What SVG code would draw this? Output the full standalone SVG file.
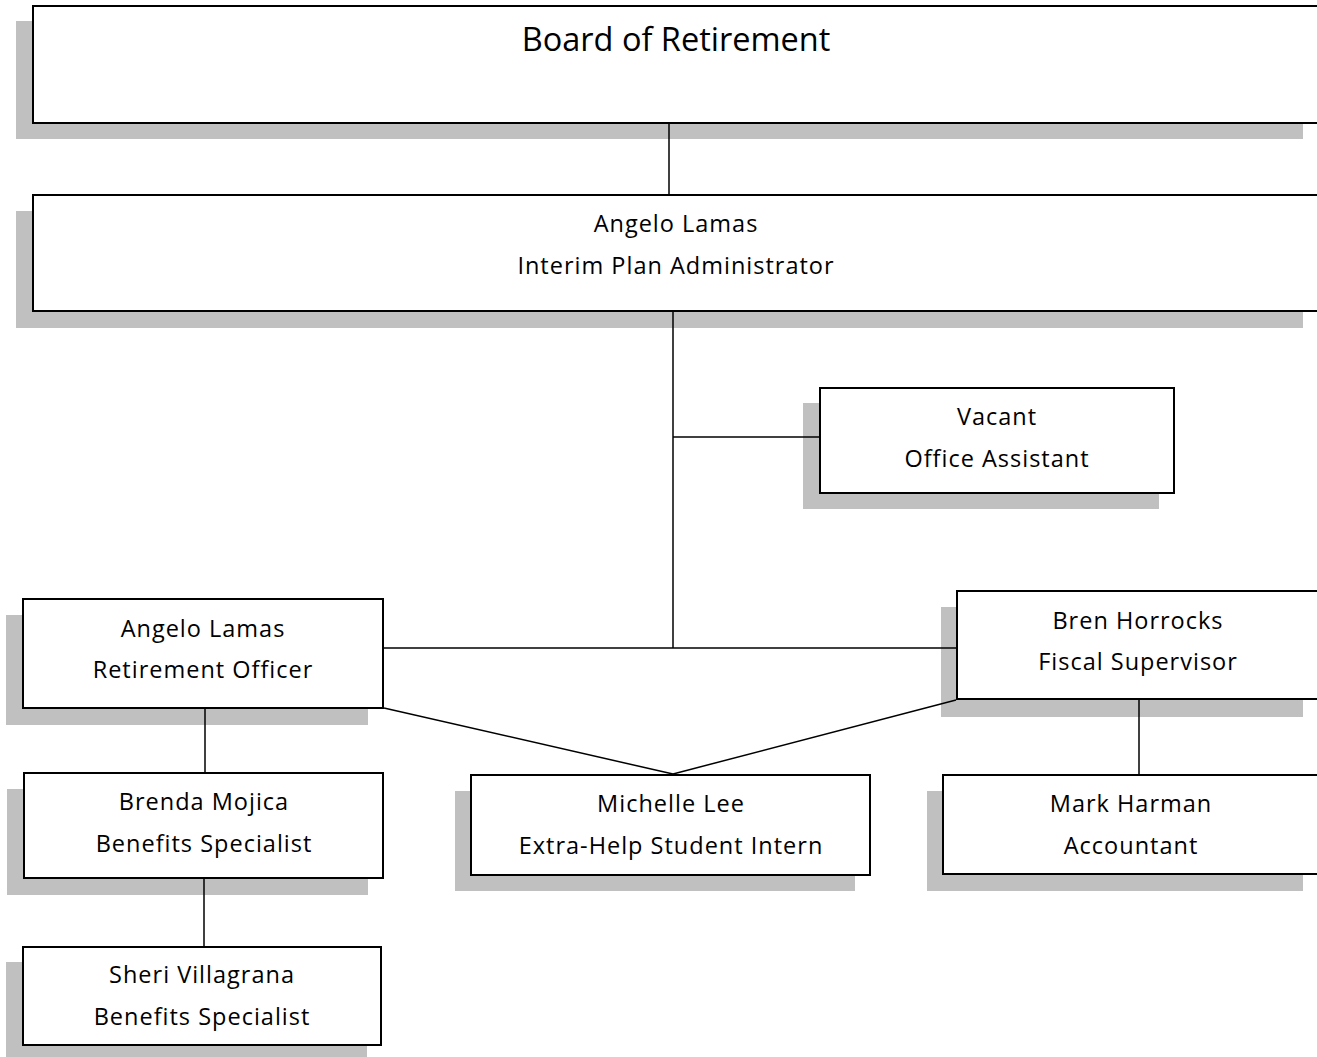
<svg xmlns="http://www.w3.org/2000/svg" width="1317" height="1057" viewBox="0 0 1317 1057">
<style>
.shadow{fill:#c0c0c0;stroke:none}
.box{fill:#fff;stroke:#000;stroke-width:2}
.t{font-family:"Open Sans","Liberation Sans",sans-serif;font-size:23.5px;letter-spacing:1px;fill:#000;text-anchor:middle}
.big{font-size:32.5px;letter-spacing:0}
.conn line{stroke:#000;stroke-width:1.5}
</style>
<rect width="1317" height="1057" fill="#fff"/>
<g id="board">
<rect class="shadow" x="16" y="21" width="1287" height="118"/>
<rect class="box" x="33" y="6" width="1300" height="117"/>
<text class="t big" x="676" y="51">Board of Retirement</text>
</g>
<g id="admin">
<rect class="shadow" x="16" y="211" width="1287" height="117"/>
<rect class="box" x="33" y="195" width="1300" height="116"/>
<text class="t" x="676" y="232">Angelo Lamas</text>
<text class="t" x="676" y="274">Interim Plan Administrator</text>
</g>
<g id="vacant">
<rect class="shadow" x="803" y="403" width="356" height="106"/>
<rect class="box" x="820" y="388" width="354" height="105"/>
<text class="t" x="997" y="425">Vacant</text>
<text class="t" x="997" y="467">Office Assistant</text>
</g>
<g id="officer">
<rect class="shadow" x="6" y="615" width="362" height="110"/>
<rect class="box" x="23" y="599" width="360" height="109"/>
<text class="t" x="203" y="637">Angelo Lamas</text>
<text class="t" x="203" y="678">Retirement Officer</text>
</g>
<g id="fiscal">
<rect class="shadow" x="941" y="607" width="362" height="110"/>
<rect class="box" x="957" y="591" width="380" height="108"/>
<text class="t" x="1138" y="629">Bren Horrocks</text>
<text class="t" x="1138" y="670">Fiscal Supervisor</text>
</g>
<g id="brenda">
<rect class="shadow" x="7" y="789" width="361" height="106"/>
<rect class="box" x="24" y="773" width="359" height="105"/>
<text class="t" x="204" y="810">Brenda Mojica</text>
<text class="t" x="204" y="852">Benefits Specialist</text>
</g>
<g id="michelle">
<rect class="shadow" x="455" y="791" width="400" height="100"/>
<rect class="box" x="471" y="775" width="399" height="100"/>
<text class="t" x="671" y="812">Michelle Lee</text>
<text class="t" x="671" y="854">Extra-Help Student Intern</text>
</g>
<g id="mark">
<rect class="shadow" x="927" y="791" width="376" height="100"/>
<rect class="box" x="943" y="775" width="394" height="99"/>
<text class="t" x="1131" y="812">Mark Harman</text>
<text class="t" x="1131" y="854">Accountant</text>
</g>
<g id="sheri">
<rect class="shadow" x="6" y="962" width="361" height="100"/>
<rect class="box" x="23" y="947" width="358" height="98"/>
<text class="t" x="202" y="983">Sheri Villagrana</text>
<text class="t" x="202" y="1025">Benefits Specialist</text>
</g>
<g id="connectors" class="conn">
<line x1="669" y1="124" x2="669" y2="194"/>
<line x1="673" y1="312" x2="673" y2="648"/>
<line x1="673" y1="437" x2="819" y2="437"/>
<line x1="384" y1="648" x2="956" y2="648"/>
<line x1="384" y1="708" x2="673" y2="774"/>
<line x1="956" y1="700" x2="673" y2="774"/>
<line x1="205" y1="709" x2="205" y2="772"/>
<line x1="204" y1="879" x2="204" y2="946"/>
<line x1="1139" y1="700" x2="1139" y2="774"/>
</g>
</svg>
